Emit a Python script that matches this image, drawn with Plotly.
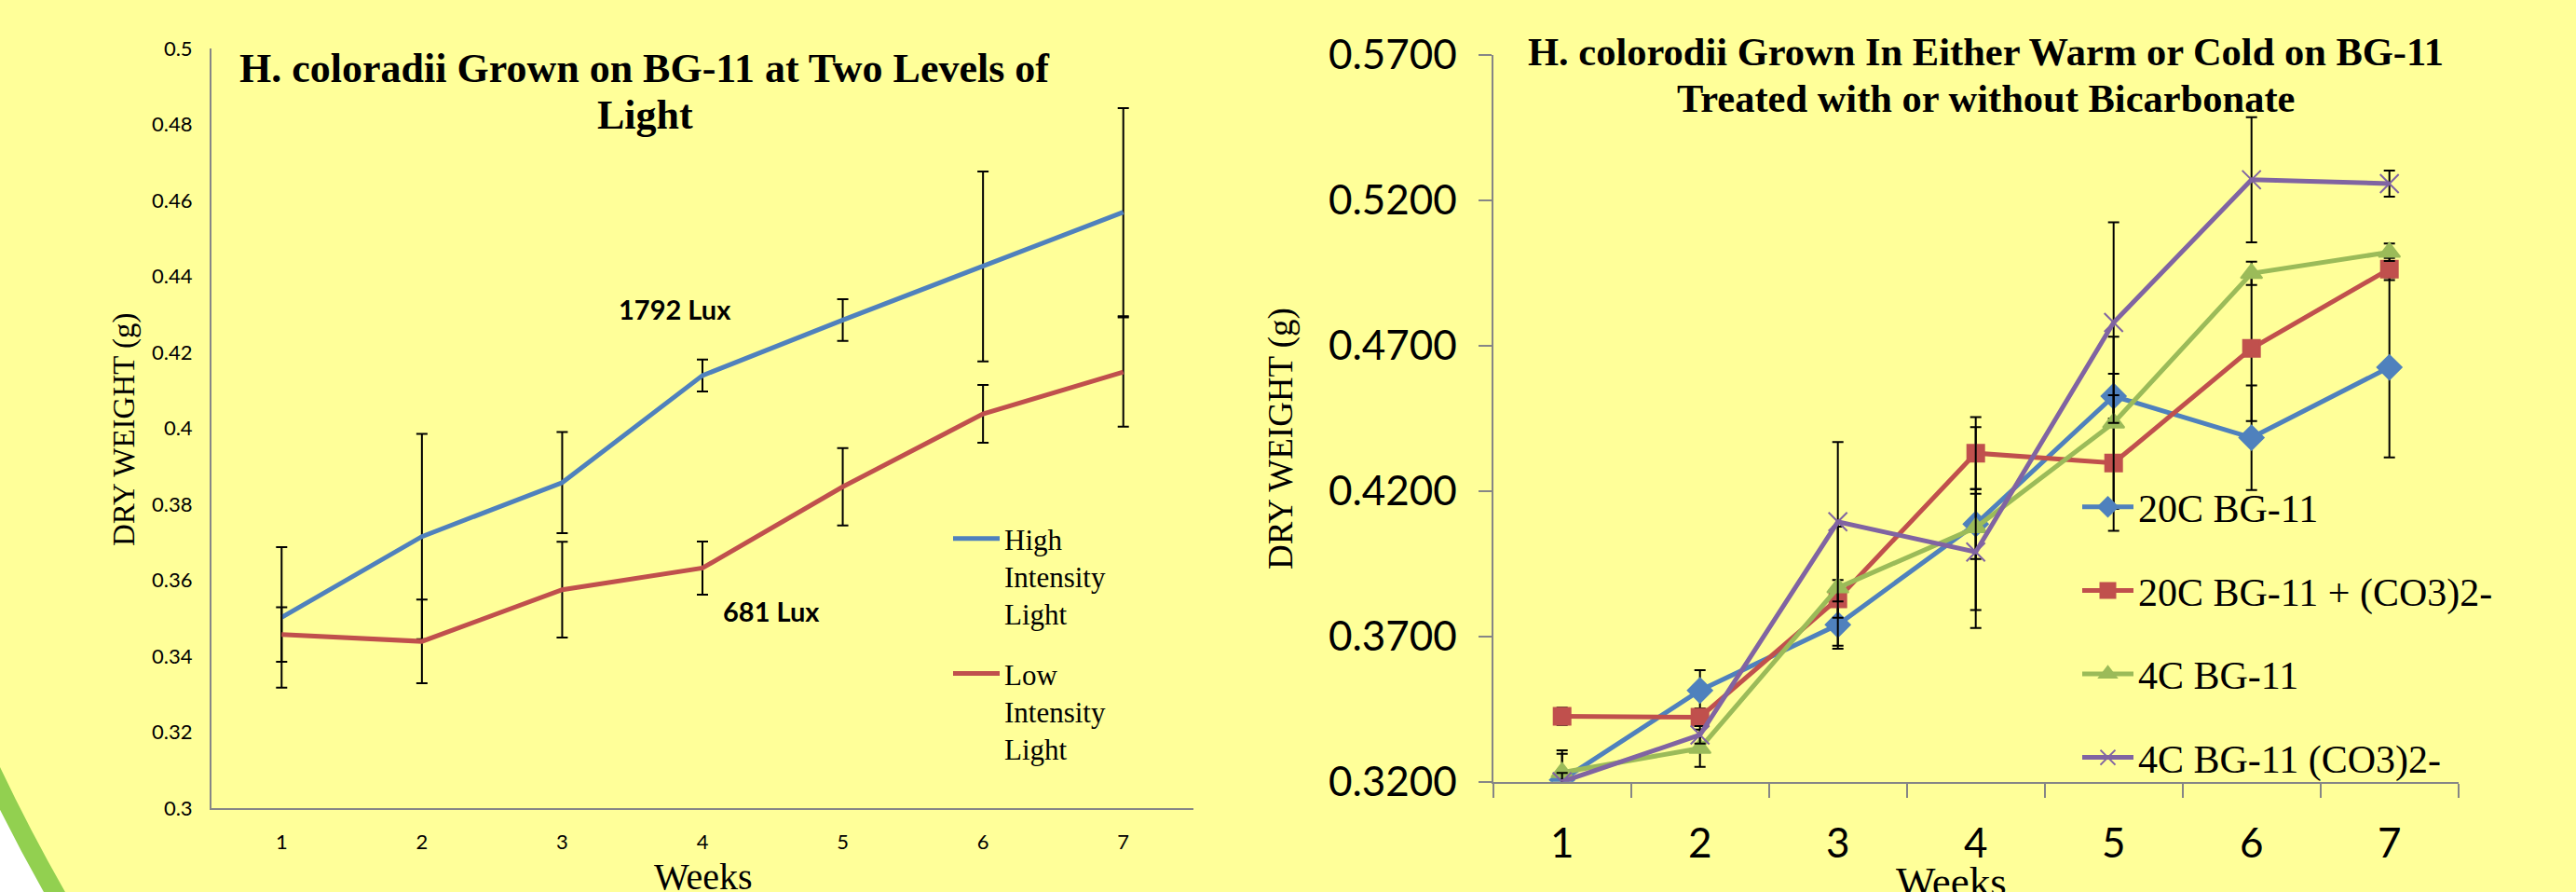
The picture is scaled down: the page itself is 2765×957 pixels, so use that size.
import plotly.graph_objects as go

W, H = 2765, 957

# ---------------- data ----------------
weeks = ["1", "2", "3", "4", "5", "6", "7"]

# Left chart: two light levels
high_light = [0.3502, 0.3715, 0.3857, 0.4139, 0.4285, 0.4426, 0.4569]
high_light_err = [0.0185, 0.0270, 0.0133, 0.0042, 0.0055, 0.0250, 0.0274]
low_light = [0.3457, 0.3439, 0.3575, 0.3632, 0.3846, 0.4038, 0.4148]
low_light_err = [0.0072, 0.0110, 0.0126, 0.0070, 0.0102, 0.0076, 0.0144]
left_names = ["High<br>Intensity<br>Light", "Low<br>Intensity<br>Light"]
left_ytickvals = [0.30, 0.32, 0.34, 0.36, 0.38, 0.40, 0.42, 0.44, 0.46, 0.48, 0.50]
left_yticktext = ["0.3", "0.32", "0.34", "0.36", "0.38", "0.4", "0.42", "0.44", "0.46", "0.48", "0.5"]

# Right chart: warm / cold, with / without bicarbonate
warm_bg11 = [0.3206, 0.3514, 0.3740, 0.4086, 0.4526, 0.4383, 0.4625]
warm_bg11_err = [0.0090, 0.0070, 0.0072, 0.0120, 0.0077, 0.0180, 0.0310]
warm_co3 = [0.3425, 0.3422, 0.3829, 0.4330, 0.4296, 0.4690, 0.4963]
warm_co3_err = [0.0030, 0.0030, 0.0065, 0.0124, 0.0233, 0.0250, 0.0038]
cold_bg11 = [0.3232, 0.3315, 0.3867, 0.4074, 0.4434, 0.4948, 0.5021]
cold_bg11_err = [0.0076, 0.0064, 0.0210, 0.0345, 0.0296, 0.0040, 0.0030]
cold_co3 = [0.3200, 0.3361, 0.4094, 0.3990, 0.4779, 0.5270, 0.5257]
cold_co3_err = [0.0030, 0.0030, 0.0274, 0.0200, 0.0345, 0.0215, 0.0045]
right_names = ["20C BG-11", "20C BG-11 + (CO3)2-", "4C BG-11", "4C BG-11 (CO3)2-"]
right_ytickvals = [0.32, 0.37, 0.42, 0.47, 0.52, 0.57]
right_yticktext = ["0.3200", "0.3700", "0.4200", "0.4700", "0.5200", "0.5700"]

# ---------------- styling ----------------
BLUE, RED, GREEN, PURPLE = "#4F81BD", "#C0504D", "#9BBB59", "#8064A2"
AXIS = "#868686"
SERIF = "Liberation Serif, Times New Roman, serif"
SANS = "Lato, sans-serif"


def px(x):
    return x / W


def py(y):
    return 1 - y / H


def err(vals):
    return dict(type="data", array=vals, visible=True, color="black",
                thickness=2, width=6)


fig = go.Figure()

for name, vals, e, col in [(left_names[0], high_light, high_light_err, BLUE),
                           (left_names[1], low_light, low_light_err, RED)]:
    fig.add_trace(go.Scatter(
        x=weeks, y=vals, name=name, mode="lines", xaxis="x", yaxis="y",
        line=dict(color=col, width=5), error_y=err(e),
        legend="legend", legendgroup=name))

right_specs = [
    (right_names[0], warm_bg11, warm_bg11_err, BLUE, "diamond", 20),
    (right_names[1], warm_co3, warm_co3_err, RED, "square", 18),
    (right_names[2], cold_bg11, cold_bg11_err, GREEN, "triangle-up", 20),
    (right_names[3], cold_co3, cold_co3_err, PURPLE, "x-thin", 20),
]
for name, vals, e, col, sym, size in right_specs:
    fig.add_trace(go.Scatter(
        x=weeks, y=vals, name=name, mode="lines+markers", xaxis="x2", yaxis="y2",
        line=dict(color=col, width=5),
        marker=dict(symbol=sym, size=size, color=col,
                    line=dict(color=col, width=2)),
        error_y=err(e), legend="legend2", legendgroup=name))

# background: yellow rounded slide panel with green rim
shapes = [dict(type="circle", xref="paper", yref="paper", layer="below",
               x0=px(1806.6 - 2010), x1=px(1806.6 + 2010),
               y0=py(-35 + 2010), y1=py(-35 - 2010),
               fillcolor="#FFFF99", line=dict(color="#92D050", width=20))]

annotations = []


def note(text, x, y, size, family=SERIF, bold=False, angle=0):
    annotations.append(dict(
        text=f"<b>{text}</b>" if bold else text,
        x=px(x), y=py(y), xref="paper", yref="paper",
        xanchor="center", yanchor="middle", showarrow=False, textangle=angle,
        font=dict(family=family, size=size, color="black")))


note("H. coloradii Grown on BG-11 at Two Levels of", 692, 73, 44, bold=True)
note("Light", 692, 123, 44, bold=True)
note("1792 Lux", 724, 332, 29, family=SANS, bold=True)
note("681 Lux", 828, 655, 29, family=SANS, bold=True)
note("Weeks", 755, 940, 40)
note("DRY WEIGHT (g)", 133, 461, 33, angle=-90)

note("H. colorodii Grown In Either Warm or Cold on BG-11", 2131, 55, 42.5, bold=True)
note("Treated with or without Bicarbonate", 2131, 105, 42.5, bold=True)
note("Weeks", 2094, 946, 45)
note("DRY WEIGHT (g)", 1375, 471, 37, angle=-90)

common_axis = dict(showgrid=False, zeroline=False, showline=True,
                   linecolor=AXIS, linewidth=2, automargin=False)

fig.update_layout(
    width=W, height=H, template="none",
    margin=dict(l=0, r=0, t=0, b=0, pad=0),
    paper_bgcolor="white", plot_bgcolor="rgba(0,0,0,0)",
    showlegend=True, shapes=shapes, annotations=annotations,
    xaxis=dict(domain=[px(227), px(1281)], anchor="y", type="category",
               range=[-0.5, 6.5], ticks="", ticklabelstandoff=16,
               tickfont=dict(family=SANS, size=22, color="black"), **common_axis),
    yaxis=dict(domain=[py(867), py(52)], anchor="x", range=[0.3, 0.5],
               tickvals=left_ytickvals, ticktext=left_yticktext, ticks="",
               ticklabelstandoff=14,
               tickfont=dict(family=SANS, size=22, color="black"), **common_axis),
    xaxis2=dict(domain=[px(1602.7), px(2638.7)], anchor="y2", type="category",
                range=[-0.5, 6.5], ticks="outside", tickson="boundaries",
                ticklen=15, tickwidth=2, tickcolor=AXIS, ticklabelstandoff=26,
                tickfont=dict(family=SANS, size=44, color="black"), **common_axis),
    yaxis2=dict(domain=[py(838.7), py(58.7)], anchor="x2", range=[0.32, 0.57],
                tickvals=right_ytickvals, ticktext=right_yticktext,
                ticks="outside", ticklen=14, tickwidth=2, tickcolor=AXIS,
                ticklabelstandoff=14,
                tickfont=dict(family=SANS, size=44, color="black"), **common_axis),
    legend=dict(x=px(1018), y=py(551), xanchor="left", yanchor="top",
                bgcolor="rgba(0,0,0,0)", borderwidth=0, valign="top",
                tracegroupgap=21, itemwidth=50,
                font=dict(family=SERIF, size=31, color="black")),
    legend2=dict(x=px(2230), y=py(510), xanchor="left", yanchor="top",
                 bgcolor="rgba(0,0,0,0)", borderwidth=0, valign="middle",
                 tracegroupgap=32, itemwidth=55,
                 font=dict(family=SERIF, size=42, color="black")),
)

fig.write_html(
    "out.html",
    config={"displayModeBar": False},
    post_script="document.body.style.margin='0px';"
                "document.body.style.padding='0px';"
                "document.body.style.overflow='hidden';")
